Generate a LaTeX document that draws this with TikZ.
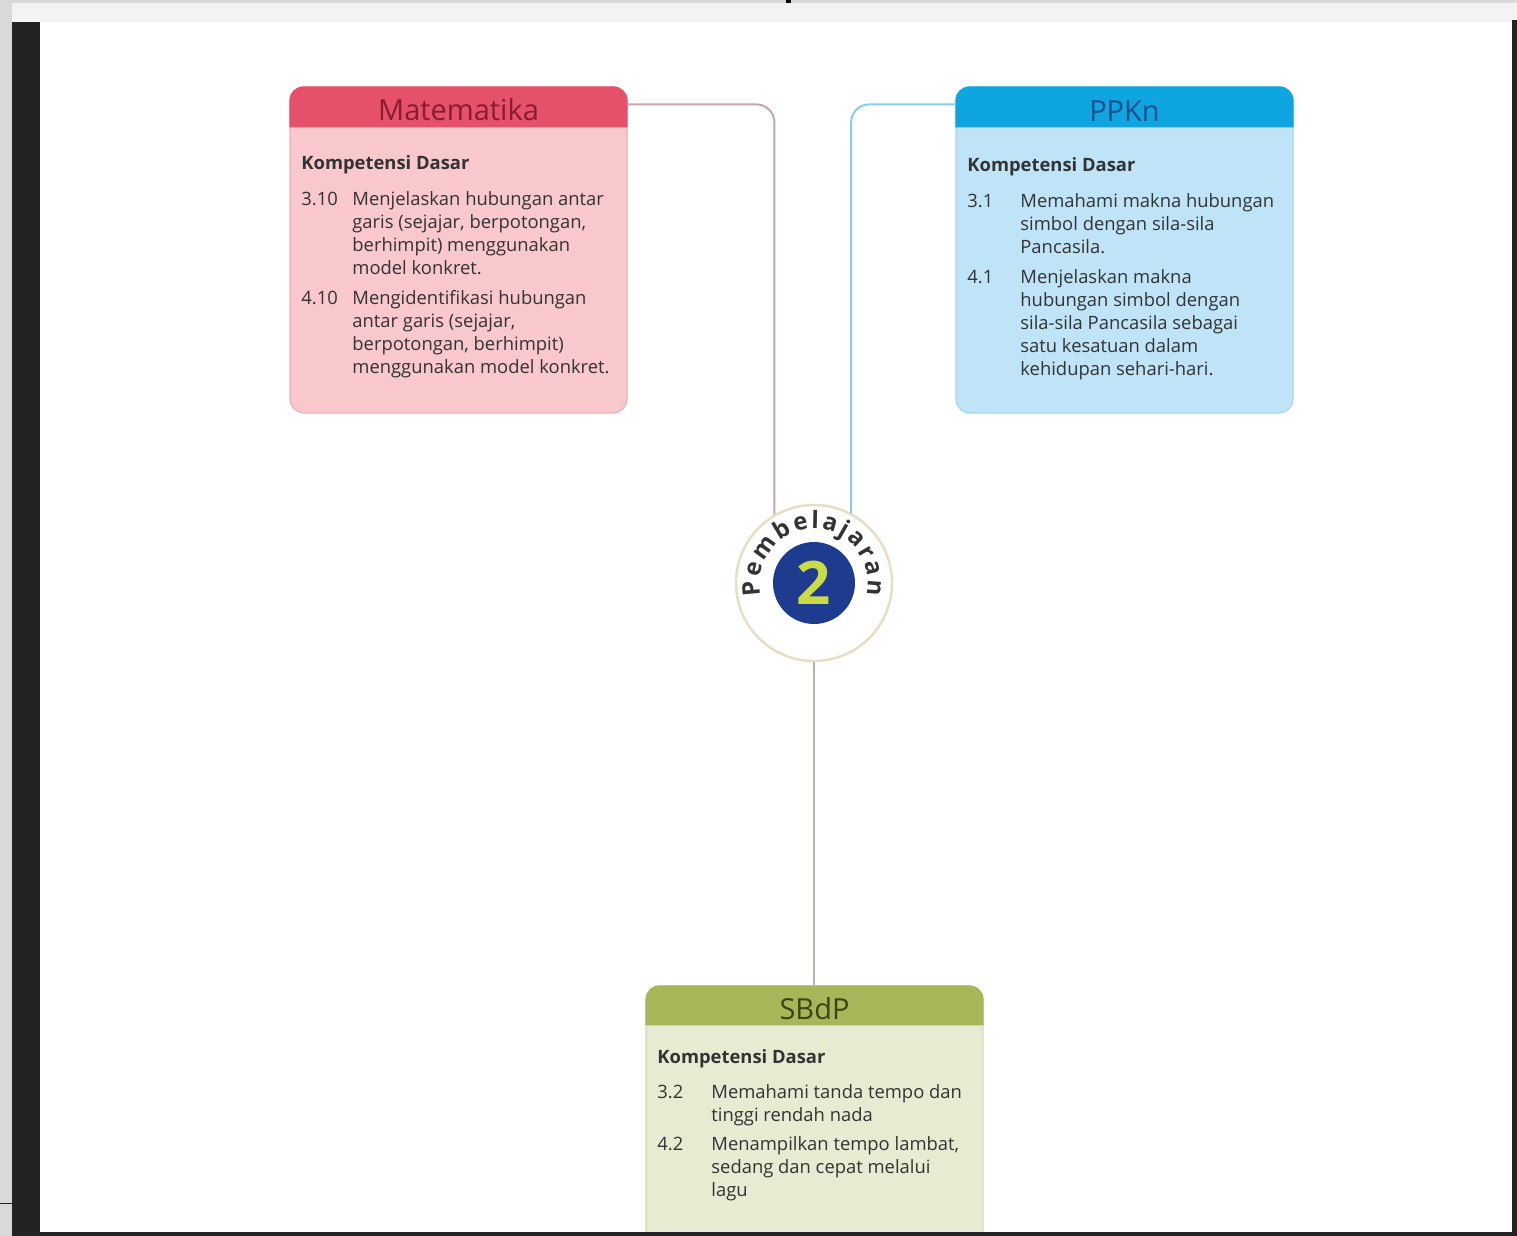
\documentclass[tikz,border=0pt]{standalone}
\usepackage{fontspec}
\setmainfont{Open Sans}
\usepackage{array}
\usetikzlibrary{decorations.text}
\definecolor{pagegray}{HTML}{D9D9D9}
\definecolor{bandgray}{HTML}{F3F3F3}
\definecolor{darkbar}{HTML}{232323}
\definecolor{bodytext}{HTML}{333333}
\definecolor{mathead}{HTML}{E5506A}
\definecolor{mattext}{HTML}{8A1C30}
\definecolor{matbody}{HTML}{F8C8CC}
\definecolor{matborder}{HTML}{EFB0B8}
\definecolor{matline}{HTML}{C9A4AA}
\definecolor{ppkhead}{HTML}{0EA5E0}
\definecolor{ppktext}{HTML}{1A4F8A}
\definecolor{ppkbody}{HTML}{BFE4F8}
\definecolor{ppkborder}{HTML}{A6D6F0}
\definecolor{ppkline}{HTML}{8CCBE6}
\definecolor{sbdhead}{HTML}{A8B65A}
\definecolor{sbdtext}{HTML}{3B4614}
\definecolor{sbdbody}{HTML}{E7EBD2}
\definecolor{sbdborder}{HTML}{D6DCB8}
\definecolor{sbdline}{HTML}{B5B49C}
\definecolor{ringcol}{HTML}{E8DCC2}
\definecolor{numblue}{HTML}{1E3C8F}
\definecolor{numgreen}{HTML}{CADC45}
\definecolor{arctext}{HTML}{333333}
\begin{document}
\begin{tikzpicture}[x=0.5pt,y=-0.5pt,
  boxbody/.style={rectangle, rounded corners=7pt, inner sep=0pt, line width=0.6pt},
  hdrtext/.style={font=\fontsize{14.5}{14.5}\selectfont, inner sep=0pt},
  kdtext/.style={anchor=north west, inner sep=0pt, font=\fontsize{9.2}{11.5}\selectfont, text=bodytext},
  conn/.style={line width=1pt, rounded corners=9pt}]
\useasboundingbox (0,0) rectangle (1517,1236);
% page frame
\fill[pagegray] (0,0) rectangle (1517,1236);
\fill[bandgray] (12,3) rectangle (1517,22);
\fill[white] (40,22) rectangle (1512,1232);
\fill[darkbar] (12,22) rectangle (40,1236);
\fill[darkbar] (1512,20) rectangle (1517,1236);
\fill[black] (786,0) rectangle (791,3);
\draw[darkbar, line width=0.5pt] (0,1203) -- (12,1203);

% Matematika
\node[boxbody, fill=matbody, draw=matborder, minimum width=168.5pt, minimum height=163pt] (mat) at (458.5,250) {};
\fill[mathead, rounded corners=7pt] ([yshift=-20.5pt]mat.north west) -- (mat.north west) -- (mat.north east) -- ([yshift=-20.5pt]mat.north east);
\node[hdrtext, text=mattext] (matT) at ([yshift=-11.5pt]mat.north) {Matematika};
\node[kdtext] (matK) at (301,153) {%
\begin{tabular}{@{}>{\raggedright}p{25.5pt}@{}p{140pt}@{}}
\multicolumn{2}{@{}l@{}}{\bfseries Kompetensi Dasar}\\[6.5pt]
3.10 & Menjelaskan hubungan antar\newline garis (sejajar, berpotongan,\newline berhimpit) menggunakan\newline model konkret.\\ \noalign{\vskip 3.5pt}
4.10 & Mengidentifikasi hubungan\newline antar garis (sejajar,\newline berpotongan, berhimpit)\newline menggunakan model konkret.\\
\end{tabular}};

% PPKn
\node[boxbody, fill=ppkbody, draw=ppkborder, minimum width=168.5pt, minimum height=163pt] (ppk) at (1124.5,250) {};
\fill[ppkhead, rounded corners=7pt] ([yshift=-20.5pt]ppk.north west) -- (ppk.north west) -- (ppk.north east) -- ([yshift=-20.5pt]ppk.north east);
\node[hdrtext, text=ppktext] (ppkT) at ([yshift=-12.5pt]ppk.north) {PPKn};
\node[kdtext] (ppkK) at (967,155) {%
\begin{tabular}{@{}>{\raggedright}p{26.5pt}@{}p{140pt}@{}}
\multicolumn{2}{@{}l@{}}{\bfseries Kompetensi Dasar}\\[6.5pt]
3.1 & Memahami makna hubungan\newline simbol dengan sila-sila\newline Pancasila.\\ \noalign{\vskip 3.5pt}
4.1 & Menjelaskan makna\newline hubungan simbol dengan\newline sila-sila Pancasila sebagai\newline satu kesatuan dalam\newline kehidupan sehari-hari.\\
\end{tabular}};

% SBdP
\node[boxbody, fill=sbdbody, draw=sbdborder, minimum width=168.5pt, minimum height=130pt] (sbd) at (814.5,1116) {};
\fill[sbdhead, rounded corners=7pt] ([yshift=-20pt]sbd.north west) -- (sbd.north west) -- (sbd.north east) -- ([yshift=-20pt]sbd.north east);
\node[hdrtext, text=sbdtext] (sbdT) at ([yshift=-11.5pt]sbd.north) {SBdP};
\node[kdtext] (sbdK) at (657,1047) {%
\begin{tabular}{@{}>{\raggedright}p{27pt}@{}p{140pt}@{}}
\multicolumn{2}{@{}l@{}}{\bfseries Kompetensi Dasar}\\[6pt]
3.2 & Memahami tanda tempo dan\newline tinggi rendah nada\\ \noalign{\vskip 3pt}
4.2 & Menampilkan tempo lambat,\newline sedang dan cepat melalui\newline lagu\\
\end{tabular}};

% centre badge
\node[circle, minimum size=78pt, fill=white, draw=ringcol, line width=1.2pt, inner sep=0pt] (circ) at (814,583) {};
\node[circle, minimum size=41pt, fill=numblue, inner sep=0pt, font=\fontsize{30}{30}\selectfont\bfseries, text=numgreen] (num) at (circ.center) {2};
\begin{scope}[shift={(circ.center)}, x=0.5pt, y=0.5pt]
\path[decorate, decoration={text along path, text align=fit to path,
  text={|\fontsize{12}{12}\selectfont\bfseries\color{arctext}|Pembelajaran}}]
  (193:54) arc (193:-13:54);
\end{scope}

% connectors
\draw[conn, matline] ([yshift=-9pt]mat.north east) -| (circ.120);
\draw[conn, ppkline] ([yshift=-9pt]ppk.north west) -| (circ.62.5);
\draw[conn, sbdline] (circ.south) -- (circ.south |- sbd.north);

% bottom bar over the cut box
\fill[darkbar] (40,1232) rectangle (1517,1236);
\end{tikzpicture}
\end{document}
